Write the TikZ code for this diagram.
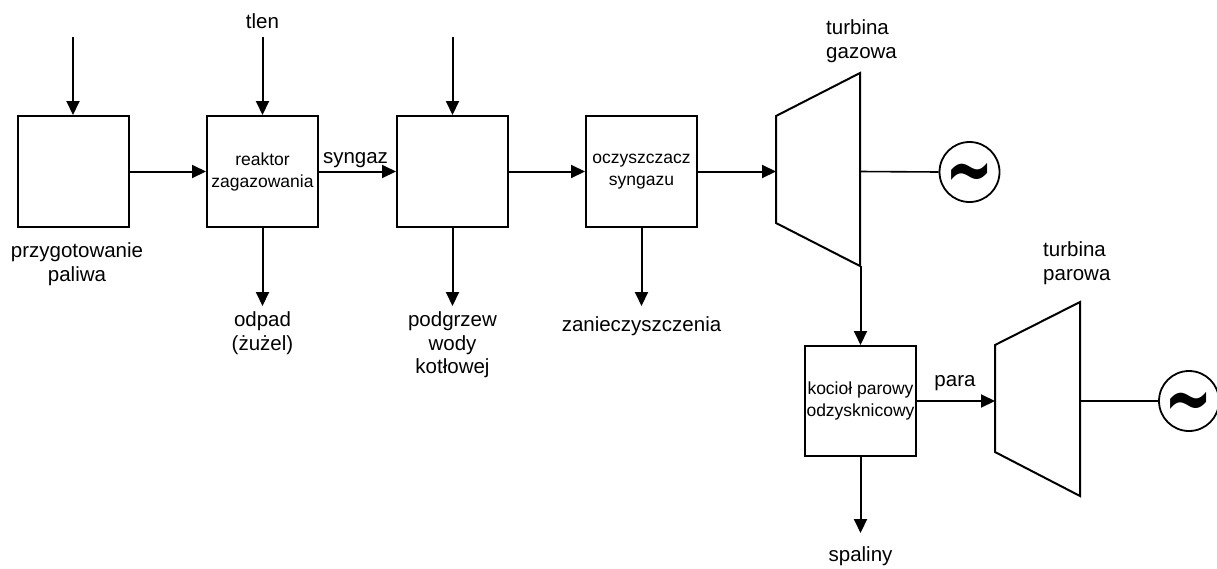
\documentclass[tikz,border=0pt]{standalone}
\usepackage{fontspec}
\setmainfont{Liberation Sans}
\newfontfamily\tildefont{DejaVu Sans}
\usetikzlibrary{arrows.meta}
\tikzset{
  unit/.style={draw, line width=2pt, minimum width=111pt, minimum height=111pt, inner sep=0pt,
    font=\fontsize{17.5}{22}\selectfont, align=center},
  gen/.style={draw, circle, line width=1.8pt, minimum size=60pt, inner sep=0pt},
  wave/.style={inner sep=0pt, anchor=base, yshift=-26pt},
  lbl/.style={font=\fontsize{20.5}{23.5}\selectfont, align=center, inner sep=0pt},
  flow/.style={line width=2pt, -{Triangle[length=14pt,width=13pt]}},
  shaft/.style={line width=1.6pt},
  casing/.style={line width=2pt, line join=miter}
}
\newcommand{\tildesym}{\scalebox{1.15}[1.7]{\fontsize{50}{50}\selectfont\tildefont\bfseries\char"7E}}
\begin{document}
\begin{tikzpicture}[x=1pt,y=-1pt]
\useasboundingbox (0,0) rectangle (1217,568);
\fill[white] (0,0) rectangle (1217,568);

% boxes
\node[unit] (prep) at (73,171.5) {};
\node[unit] (reak) at (262.5,171.5) {reaktor\\zagazowania};
\node[unit] (heat) at (452.5,171.5) {};
\node[unit] (clean) at (641.5,171.5) {oczyszczacz\\syngazu};
\node[unit, minimum height=110pt] (boil) at (860.5,401) {kocioł parowy\\odzysknicowy};

% turbines
\draw[casing] (776,116) -- (860,73) -- (860,266) -- (776,223) -- cycle;
\coordinate (gtin) at (776,171.5);
\coordinate (gtout) at (860,171.5);
\coordinate (gtbot) at (860.5,266);
\draw[casing] (995,345) -- (1080,302) -- (1080,496) -- (995,452) -- cycle;
\coordinate (stin) at (995,401);
\coordinate (stout) at (1080,401);

% generators
\node[gen] (gen1) at (969.5,172) {};
\node[gen] (gen2) at (1189,401) {};
\node[wave] (w1) at (gen1.center) {\tildesym};
\node[wave] (w2) at (gen2.center) {\tildesym};

% inputs
\coordinate (in1) at (73,37);
\coordinate (in2) at (262.5,37);
\coordinate (in3) at (452.5,37);
\node[lbl] (tlen) at (262.5,21) {tlen};

% outputs
\coordinate (out2) at (262.5,306);
\coordinate (out3) at (452.5,306);
\coordinate (out4) at (641.5,306);
\coordinate (out5) at (860.5,533);

% labels
\node[lbl] (lprep) at (77,264) {przygotowanie\\paliwa};
\node[lbl] (lodp) at (262.5,333) {odpad\\(żużel)};
\node[lbl] (lpod) at (452.5,345) {podgrzew\\wody\\kotłowej};
\node[lbl] (lzan) at (641.5,326) {zanieczyszczenia};
\node[lbl, anchor=west, align=left] (lgt) at (826,41) {turbina\\gazowa};
\node[lbl, anchor=west, align=left] (lst) at (1043,263) {turbina\\parowa};
\node[lbl] (lsp) at (860.5,556) {spaliny};
\node[lbl] (lsyn) at (355.5,160) {syngaz};
\node[lbl] (lpara) at (955,383) {para};

% flows
\draw[flow] (in1) -- (prep.north);
\draw[flow] (in2) -- (reak.north);
\draw[flow] (in3) -- (heat.north);
\draw[flow] (prep.east) -- (reak.west);
\draw[flow] (reak.east) -- (heat.west);
\draw[flow] (heat.east) -- (clean.west);
\draw[flow] (clean.east) -- (gtin);
\draw[flow] (reak.south) -- (out2);
\draw[flow] (heat.south) -- (out3);
\draw[flow] (clean.south) -- (out4);
\draw[flow] (gtbot) -- (boil.north);
\draw[flow] (boil.east) -- (stin);
\draw[flow] (boil.south) -- (out5);
\draw[shaft] (gtout) -- (gen1.west);
\draw[shaft] (stout) -- (gen2.west);
\end{tikzpicture}
\end{document}
